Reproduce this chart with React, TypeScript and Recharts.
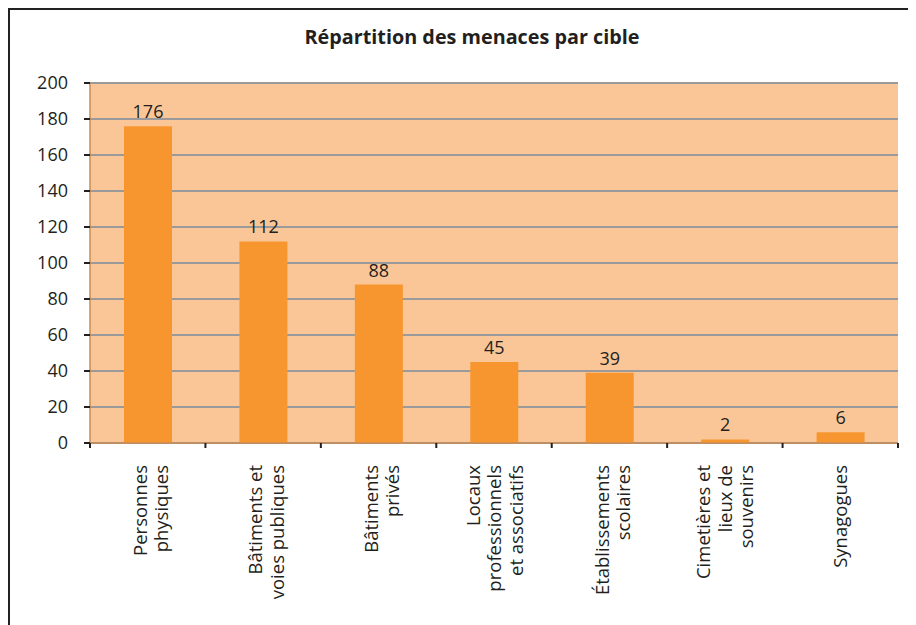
import { Bar, BarChart, CartesianGrid, LabelList, XAxis, YAxis } from "recharts";

const CATEGORIES = [
  "Personnes\nphysiques",
  "Bâtiments et\nvoies publiques",
  "Bâtiments\nprivés",
  "Locaux\nprofessionnels\net associatifs",
  "Établissements\nscolaires",
  "Cimetières et\nlieux de\nsouvenirs",
  "Synagogues",
];
const VALUES = [176, 112, 88, 45, 39, 2, 6];
const Y_TICKS = [0, 20, 40, 60, 80, 100, 120, 140, 160, 180, 200];

const rows = CATEGORIES.map((c, i) => ({ name: c, value: VALUES[i] }));

const FONT = "'Open Sans', 'Noto Sans', sans-serif";
const INK = "#231f20";
const BAR = "#f7962f";
const PLOT_BG = "#fbc697";
const GRID = "#9a9a9a";
const AXIS = "#c98b55";

const CHART_W = 906;
const CHART_H = 615;
const MARGIN = { top: 73, right: 18, left: 20, bottom: 10 };
const Y_W = 60;
const PLOT_W = CHART_W - MARGIN.left - MARGIN.right - Y_W;

// rotated, end-aligned multi-line labels; tick marks sit on the category edges
function CatTick(props: any) {
  const { x, y, payload, index } = props;
  const band = PLOT_W / CATEGORIES.length;
  const lines: string[] = String(payload.value).split("\n");
  const n = lines.length;
  const ay = y + 22;
  const lh = 21.5;
  return (
    <g>
      <line x1={x - band / 2} x2={x - band / 2} y1={y} y2={y + 5} stroke={INK} strokeWidth={2} />
      {index === CATEGORIES.length - 1 && (
        <line x1={x + band / 2} x2={x + band / 2} y1={y} y2={y + 5} stroke={INK} strokeWidth={2} />
      )}
      {lines.map((l, i) => (
        <text
          key={i}
          x={x}
          y={ay + (n === 2 ? 10 : 7) + (i - (n - 1) / 2) * lh}
          transform={`rotate(-90 ${x} ${ay})`}
          textAnchor="end"
          fontSize={18.5}
          fill={INK}
          fontFamily={FONT}
        >
          {l}
        </text>
      ))}
    </g>
  );
}

export default function App() {
  return (
    <div
      style={{
        position: "relative",
        width: 908,
        height: 617,
        boxSizing: "border-box",
        borderLeft: "2px solid #222",
        borderTop: "2px solid #222",
        background: "#fff",
        fontFamily: FONT,
      }}
    >
      <div
        style={{
          position: "absolute",
          left: 212,
          top: 17,
          width: 500,
          textAlign: "center",
          fontSize: 19.8,
          lineHeight: "20px",
          fontWeight: 700,
          color: INK,
        }}
      >
        Répartition des menaces par cible
      </div>
      <BarChart width={CHART_W} height={CHART_H} data={rows} margin={MARGIN}>
        <CartesianGrid fill={PLOT_BG} stroke={GRID} strokeWidth={2} vertical={false} />
        <XAxis
          dataKey="name"
          interval={0}
          height={172}
          tickSize={0}
          tickMargin={0}
          tickLine={false}
          axisLine={{ stroke: AXIS, strokeWidth: 1.5 }}
          tick={<CatTick />}
        />
        <YAxis
          width={Y_W}
          domain={[0, 200]}
          ticks={Y_TICKS}
          interval={0}
          tickSize={6}
          tickMargin={16}
          tickLine={{ stroke: INK, strokeWidth: 2 }}
          axisLine={{ stroke: AXIS, strokeWidth: 1.5 }}
          tick={{ fontSize: 18, fill: INK, fontFamily: FONT }}
        />
        <Bar dataKey="value" fill={BAR} barSize={48} isAnimationActive={false}>
          <LabelList
            dataKey="value"
            position="top"
            offset={8}
            fill={INK}
            fontSize={18}
            fontFamily={FONT}
          />
        </Bar>
      </BarChart>
    </div>
  );
}
